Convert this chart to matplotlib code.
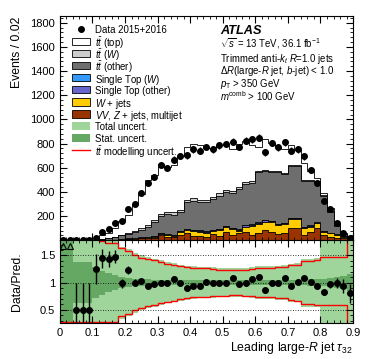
import numpy as np
import matplotlib
matplotlib.use("Agg")
import matplotlib.pyplot as plt
from matplotlib.patches import Rectangle
from matplotlib.ticker import MultipleLocator

plt.rcParams["font.family"] = ["Liberation Sans", "DejaVu Sans"]
plt.rcParams["mathtext.fontset"] = "custom"
plt.rcParams["mathtext.rm"] = "Liberation Sans"
plt.rcParams["mathtext.it"] = "Liberation Sans:italic"
plt.rcParams["mathtext.bf"] = "Liberation Sans:bold"

# binning: 45 bins of 0.02 in tau32
edges = np.linspace(0.0, 0.9, 46)
centers = 0.5 * (edges[1:] + edges[:-1])

# data
data = [3, 2, 1, 1, 1, 20, 65, 90, 145, 160, 258, 296, 390, 472, 525,
        622, 600, 668, 697, 702, 751, 742, 772, 753, 784, 797, 814, 772, 822, 836,
        847, 726, 805, 770, 811, 742, 751, 693, 577, 475, 326, 255, 139, 57, 21]

# stack components (bottom to top)
vv_z_mj = [0, 0, 0, 0, 0, 1, 1, 2, 3, 5, 8, 10, 14, 18, 22,
           40, 30, 25, 45, 60, 35, 35, 29, 51, 35, 70, 43, 57, 70, 43,
           62, 84, 70, 51, 62, 98, 98, 43, 70, 98, 43, 29, 21, 15, 5]
wjets = [0, 0, 0, 0, 0, 0, 0, 1, 1, 2, 3, 4, 5, 6, 8,
         12, 10, 8, 20, 25, 41, 35, 33, 25, 49, 36, 47, 21, 42, 74,
         72, 69, 77, 75, 72, 74, 74, 55, 42, 41, 27, 28, 22, 14, 5]
stop_other = [0, 0, 0, 0, 0, 0, 0, 0, 1, 1, 2, 2, 3, 4, 5,
              6, 6, 7, 7, 8, 8, 8, 8, 8, 8, 9, 9, 9, 10, 10,
              10, 10, 10, 9, 9, 10, 10, 9, 8, 7, 6, 5, 3, 2, 1]
stop_w = [0, 0, 0, 0, 0, 0, 0, 0, 0, 1, 1, 1, 1, 2, 2,
          2, 2, 2, 3, 3, 3, 3, 3, 3, 3, 3, 3, 3, 3, 3,
          3, 3, 3, 3, 3, 3, 3, 3, 2, 2, 2, 1, 1, 1, 0]
tt_other = [0.3, 0.3, 0.5, 0.5, 0.8, 2.5, 8, 13, 20, 30, 40, 53, 65, 83, 110,
            140, 167, 170, 157, 216, 239, 234, 244, 255, 274, 282, 287, 336, 342, 346,
            418, 404, 407, 426, 404, 432, 432, 382, 367, 334, 284, 171, 73, 20, 10]
tt_w = [0, 0, 0, 0, 0.2, 0.5, 1, 2, 4, 6, 8, 10, 12, 15, 18,
        20, 20, 20, 18, 20, 20, 20, 18, 18, 18, 18, 16, 16, 15, 12,
        10, 8, 8, 8, 8, 8, 8, 8, 8, 8, 8, 6, 5, 3, 1]
tt_top = [0.7, 0.7, 1.5, 1.5, 1, 12, 35, 45, 69, 117, 148, 216, 282, 374, 376,
          408, 371, 392, 447, 439, 453, 454, 429, 393, 397, 379, 349, 354, 340, 301,
          195, 256, 230, 198, 193, 164, 119, 136, 74, 21, 24, 23, 15, 6, 4]

# ratio-panel uncertainty bands (relative, around 1)
tot_err = [1, 1, 1, 1, 1, 1, 1, 1, 1, 0.66, 0.62, 0.55, 0.5, 0.47, 0.44,
           0.42, 0.38, 0.36, 0.33, 0.31, 0.3, 0.29, 0.29, 0.28, 0.27, 0.27, 0.26, 0.26, 0.27, 0.28,
           0.3, 0.3, 0.3, 0.31, 0.32, 0.35, 0.36, 0.44, 0.44, 0.45, 1, 1, 1, 1, 1]
stat_err = [1, 1, 0.37, 0.37, 0.37, 0.28, 0.22, 0.18, 0.14, 0.1, 0.08, 0.07, 0.06, 0.06, 0.05,
            0.05, 0.05, 0.05, 0.05, 0.05, 0.05, 0.05, 0.05, 0.05, 0.05, 0.05, 0.05, 0.05, 0.05, 0.05,
            0.05, 0.05, 0.05, 0.05, 0.05, 0.05, 0.05, 0.05, 0.06, 0.06, 0.07, 0.08, 0.1, 0.12, 0.15]
red_up = [2, 2, 2, 2, 2, 2, 1.76, 1.73, 1.72, 1.63, 1.58, 1.5, 1.46, 1.43, 1.41,
          1.38, 1.35, 1.33, 1.3, 1.28, 1.27, 1.26, 1.26, 1.25, 1.24, 1.24, 1.23, 1.23, 1.24, 1.25,
          1.27, 1.27, 1.27, 1.28, 1.29, 1.32, 1.33, 1.4, 1.4, 1.42, 1.47, 1.47, 1.47, 1.47, 2]
red_dn = [0.27, 0.27, 0.27, 0.27, 0.27, 0.27, 0.27, 0.27, 0.27, 0.38, 0.42, 0.5, 0.54, 0.57, 0.59,
          0.62, 0.65, 0.67, 0.7, 0.72, 0.73, 0.74, 0.74, 0.75, 0.76, 0.76, 0.77, 0.77, 0.76, 0.75,
          0.73, 0.73, 0.73, 0.72, 0.71, 0.68, 0.67, 0.6, 0.6, 0.58, 0.58, 0.58, 0.58, 0.58, 0]

components = [
    (vv_z_mj, "#993300", r"$VV$, $Z$ + jets, multijet"),
    (wjets, "#ffcc00", r"$W$ + jets"),
    (stop_other, "#6666cc", "Single Top (other)"),
    (stop_w, "#3399ff", r"Single Top ($W$)"),
    (tt_other, "#6e6e6e", r"$t\bar{t}$ (other)"),
    (tt_w, "#cccccc", r"$t\bar{t}$ ($W$)"),
    (tt_top, "white", r"$t\bar{t}$ (top)"),
]
LIGHT_GREEN, DARK_GREEN = "#9fd49b", "#65a863"
FS_TXT, FS_LAB = 6.9, 8.8

W, H = 374, 359
fig = plt.figure(figsize=(3.74, 3.59), dpi=100)
ax = fig.add_axes([0.160, 0.331, 0.784, 0.624])
rx = fig.add_axes([0.160, 0.099, 0.784, 0.232], sharex=ax)

# stacked histograms, drawn from the top cumulative down
cum = np.cumsum([np.array(c[0], float) for c in components], axis=0)
for k in range(len(components) - 1, -1, -1):
    ax.stairs(cum[k], edges, fill=True, facecolor=components[k][1],
              edgecolor="black", lw=0.6)
total = cum[-1]

data = np.array(data, float)
ax.errorbar(centers, data, yerr=np.sqrt(data), fmt="o", ms=4, color="black",
            elinewidth=1, capsize=0, zorder=5)

ax.set_xlim(0, 0.9)
ax.set_ylim(0, 1855)
ax.set_yticks(np.arange(200, 1801, 200))
ax.yaxis.set_minor_locator(MultipleLocator(40))
ax.xaxis.set_major_locator(MultipleLocator(0.1))
ax.xaxis.set_minor_locator(MultipleLocator(0.02))
ax.tick_params(labelbottom=False)
ax.set_ylabel("Events / 0.02", fontsize=FS_LAB, loc="top")
ax.yaxis.set_label_coords(-0.125, 1.0)

# legend, drawn entry by entry in figure pixels
def fx(px):
    return px / W


def fy(py):
    return 1 - py / H


entries = [("data", None, "Data 2015+2016")]
for vals, col, lab in components[::-1]:
    entries.append(("box", col, lab))
entries += [("fill", LIGHT_GREEN, "Total uncert."),
            ("fill", DARK_GREEN, "Stat. uncert."),
            ("line", "red", r"$t\bar{t}$ modelling uncert.")]
for i, (kind, col, lab) in enumerate(entries):
    yc = 29.3 + 12.07 * i
    if kind == "data":
        fig.add_artist(plt.Line2D([fx(81)], [fy(yc)], marker="o", ms=4, color="black",
                                  transform=fig.transFigure))
    elif kind == "line":
        fig.add_artist(plt.Line2D([fx(72), fx(90)], [fy(yc), fy(yc)], color="red", lw=1,
                                  transform=fig.transFigure))
    else:
        ec = "black" if kind == "box" else "none"
        fig.add_artist(Rectangle((fx(72), fy(yc + 3.8)), fx(18), 7.6 / H, facecolor=col,
                                 edgecolor=ec, lw=0.6, transform=fig.transFigure))
    fig.text(fx(95), fy(yc), lab, fontsize=FS_TXT, va="center_baseline")

# ATLAS label block
fig.text(fx(220), fy(29.3), "ATLAS", fontsize=9.2, fontweight="bold",
         fontstyle="italic", va="center_baseline")
info = [(41.7, r"$\sqrt{s}$ = 13 TeV, 36.1 fb$^{-1}$"),
        (56.5, r"Trimmed anti-$k_{t}$ $R$=1.0 jets"),
        (69.5, r"$\Delta R$(large-$R$ jet, $b$-jet) < 1.0"),
        (82.0, r"$p_{\mathrm{T}}$ > 350 GeV"),
        (95.0, r"$m^{\mathrm{comb}}$ > 100 GeV")]
for yy, txt in info:
    fig.text(fx(220), fy(yy), txt, fontsize=FS_TXT, va="center_baseline")

# ratio panel
ratio = data / total
rerr = np.sqrt(data) / total
tot_err = np.array(tot_err)
stat_err = np.array(stat_err)
ext = lambda a: np.append(a, a[-1])
rx.fill_between(edges, ext(1 - tot_err), ext(1 + tot_err), step="post",
                color=LIGHT_GREEN, lw=0)
rx.fill_between(edges, ext(1 - stat_err), ext(1 + stat_err), step="post",
                color=DARK_GREEN, lw=0)
rx.stairs(red_up, edges, color="red", lw=1, baseline=None)
rx.stairs(red_dn, edges, color="red", lw=1, baseline=None)
for yy in (0.5, 1.0, 1.5):
    rx.axhline(yy, color="black", ls=(0, (1, 2)), lw=0.6, zorder=3)

ylo, yhi = 0.25, 1.78
inside = ratio < yhi
rx.errorbar(centers[inside], ratio[inside], yerr=rerr[inside], fmt="o", ms=4,
            color="black", elinewidth=1, capsize=0, zorder=5)
rx.plot(centers[~inside], np.full((~inside).sum(), 1.68), "^", ms=5,
        mfc="none", mec="black", mew=0.8, zorder=5)

rx.set_ylim(ylo, yhi)
rx.set_yticks([0.5, 1, 1.5])
rx.set_yticklabels(["0.5", "1", "1.5"])
rx.yaxis.set_minor_locator(MultipleLocator(0.1))
rx.set_xticks(np.arange(0, 0.91, 0.1))
rx.set_xticklabels(["0", "0.1", "0.2", "0.3", "0.4", "0.5", "0.6", "0.7", "0.8", "0.9"])
rx.set_ylabel("Data/Pred.", fontsize=FS_LAB)
rx.yaxis.set_label_coords(-0.125, 0.5)
rx.set_xlabel(r"Leading large-$R$ jet $\tau_{32}$", fontsize=FS_LAB, loc="right", labelpad=1)

for a in (ax, rx):
    a.tick_params(which="both", direction="in", top=True, right=True, labelsize=8)
    a.tick_params(which="major", length=5)
    a.tick_params(which="minor", length=2.5)

fig.savefig("out.png", dpi=100)
